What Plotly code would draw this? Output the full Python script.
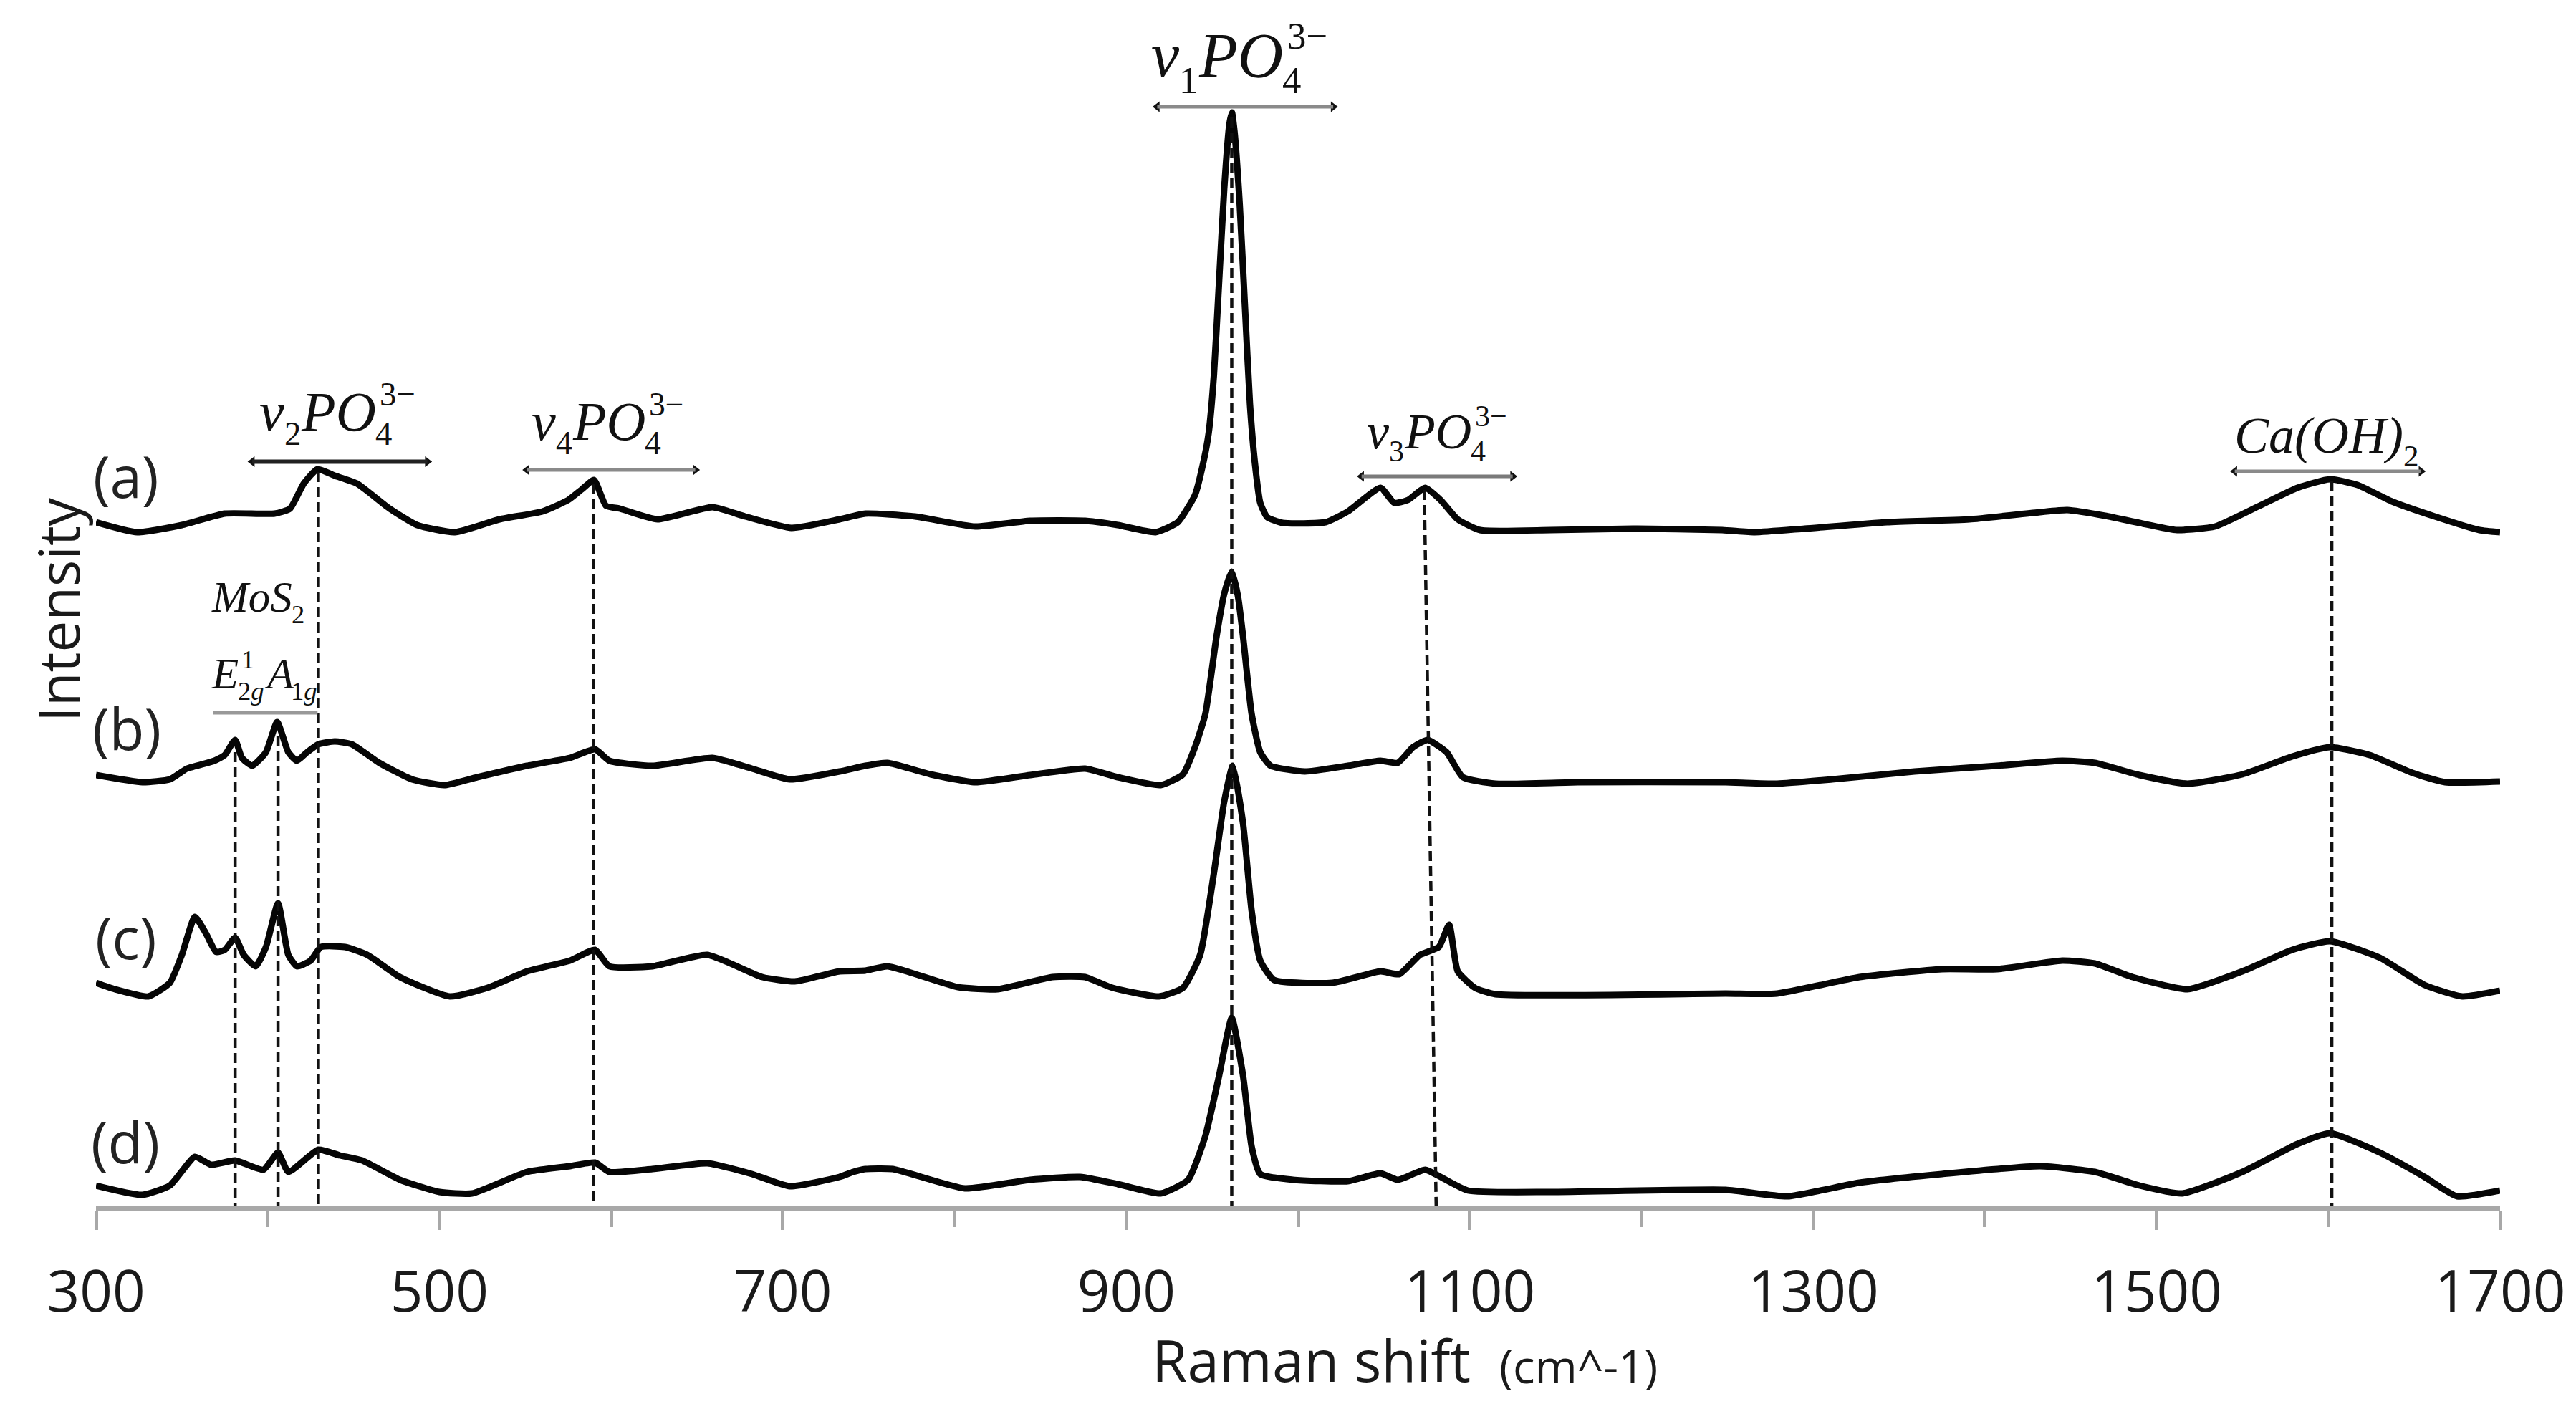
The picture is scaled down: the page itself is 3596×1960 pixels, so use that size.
import re
import plotly.graph_objects as go

# ---------------- data ----------------
# Raman shift (cm^-1) and intensity (a.u., each trace before vertical stacking)
wn_a = [300, 324, 350, 375, 404, 413, 421, 429, 439, 452, 471, 487, 509, 535, 560, 575, 583, 590,
        597, 605, 627, 659, 678, 705, 733, 748, 777, 812, 844, 876, 895, 917, 930, 940, 945, 948,
        951, 954, 957, 960, 961.5, 963, 966, 969, 972, 975, 978, 982, 991, 1016, 1029, 1048, 1056,
        1064, 1074, 1083, 1093, 1106, 1147, 1195, 1247, 1266, 1295, 1343, 1391, 1432, 1448, 1470,
        1490, 1512, 1534, 1560, 1582, 1601, 1617, 1637, 1662, 1688, 1700]
int_a = [55, 41, 51, 67, 67, 74, 109, 129, 120, 109, 74, 51, 41, 59, 70, 86, 101, 114,
         78, 74, 59, 76, 63, 47, 59, 67, 63, 49, 57, 57, 51, 41, 55, 93, 140, 180,
         260, 390, 520, 610, 627, 600, 500, 360, 220, 135, 82, 62, 54, 55, 70, 103, 82,
         86, 103, 86, 59, 44, 44, 46, 44, 41, 46, 55, 59, 69, 72, 64,
         54, 44, 49, 78, 103, 115, 107, 84, 63, 44, 41]

wn_b = [300, 327, 343, 353, 369, 375, 381, 385, 391, 399, 405.5, 412, 417, 423, 429.5, 439, 449,
        465, 484, 503, 522, 551, 576, 590.6, 599, 624, 659, 682, 704, 733, 748, 761, 786, 812, 844,
        876, 895, 920, 933, 940, 946, 952.5, 957, 961.4, 965, 968, 973, 978, 984, 1004, 1029, 1048,
        1058, 1067, 1075.5, 1086.5, 1096, 1115, 1163, 1249, 1279, 1311, 1359, 1407, 1445, 1464,
        1490, 1518, 1550, 1579, 1601, 1624, 1649, 1668, 1700]
int_b = [42, 32, 36, 51, 62, 70, 91, 66, 55, 74, 116, 74, 62, 74, 85, 89, 85,
         59, 36, 28, 39, 55, 66, 78, 62, 55, 66, 51, 36, 47, 55, 59, 43, 32, 42,
         51, 39, 28, 43, 81, 127, 235, 295, 326, 292, 235, 127, 74, 55, 47, 55, 62,
         59, 81, 91, 74, 39, 30, 32, 32, 30, 36, 47, 55, 62, 59,
         42, 30, 43, 68, 81, 70, 45, 32, 33]

wn_c = [300, 311, 330.5, 343, 350, 357.6, 364, 370, 375, 381, 386, 393, 399, 406, 412, 417, 425,
        431, 445, 458, 477, 506, 528, 551, 576, 590.6, 599, 624, 656, 688, 707, 733, 748, 761, 802,
        825, 857, 876, 892, 919, 933, 943, 951, 957, 962, 968, 973, 978, 986, 1020, 1048, 1059,
        1071, 1082, 1088, 1093, 1103, 1115, 1249, 1279, 1327, 1375, 1407, 1445, 1464, 1486, 1518,
        1550, 1579, 1601, 1630, 1656, 1678, 1700]
int_c = [42, 33, 23, 42, 81, 134, 111, 85, 88, 105, 81, 65, 92, 153, 81, 65, 73,
         92, 92, 81, 50, 23, 35, 58, 73, 88, 65, 65, 81, 50, 44, 58, 59, 65, 36,
         33, 50, 50, 35, 23, 35, 81, 195, 295, 345, 264, 142, 73, 46, 42, 58, 54,
         81, 92, 123, 58, 35, 26, 27, 27, 50, 61, 61, 73, 69, 50, 33,
         58, 88, 100, 77, 39, 23, 31]

wn_d = [300, 327, 343, 357.6, 367, 381, 397.5, 406, 412, 429.5, 442, 455, 477, 500, 519, 551, 576,
        590.6, 599, 624, 656, 682, 704, 733, 741, 748, 764, 806, 844, 873, 895, 920, 936, 946, 954,
        961.4, 968, 973, 978, 997, 1029, 1048, 1058, 1074, 1083, 1099, 1147, 1249, 1285, 1327,
        1375, 1432, 1464, 1490, 1515, 1550, 1582, 1601, 1630, 1656, 1675, 1700]
int_d = [29, 16, 29, 69, 58, 64, 51, 75, 48, 79, 71, 64, 37, 20, 18, 48, 56,
         61, 48, 52, 60, 45, 28, 41, 48, 52, 52, 25, 37, 41, 31, 18, 37, 98, 182,
         263, 182, 83, 45, 37, 35, 46, 37, 51, 41, 22, 20, 23, 14, 33,
         45, 56, 48, 29, 18, 48, 87, 102, 75, 41, 14, 22]

sample_names = ["(a)", "(b)", "(c)", "(d)"]
stack_offsets = [900, 560, 270, 0]

# band assignments: peak positions (cm^-1)
peak_lines = [381, 406, 429.5, 589.7, 961.4, 1602]
peak_tops = [634, 657, 1025, 1009, 1520, 1013]
v3_line = ([1073.5, 1080.5], [1000, -8])

# labelled ranges: (x0, x1, height)
bands = {
    "v1": (918, 1020.5, 1535),
    "v2": (391, 493, 1039.5),
    "v4": (551, 649, 1028),
    "v3": (1037, 1125, 1019),
    "CaOH": (1545.5, 1654, 1026),
    "MoS2": (368, 429, 689),
}

tick_values = [300, 500, 700, 900, 1100, 1300, 1500, 1700]

# ---------------- figure ----------------
W, H = 3596, 1960
ML, MR, MT, MB = 126, 114, 0, 284
PLOT_W = W - ML - MR
PLOT_H = H - MT - MB

fig = go.Figure()

spectra = [(wn_a, int_a), (wn_b, int_b), (wn_c, int_c), (wn_d, int_d)]
for (wn, it), off, name in zip(spectra, stack_offsets, sample_names):
    fig.add_trace(go.Scatter(
        x=wn, y=[v + off for v in it], mode="lines", name=name,
        line=dict(color="#050505", width=9, shape="spline", smoothing=0.5),
        hoverinfo="skip"))

shapes = []
for xp_, top in zip(peak_lines, peak_tops):
    shapes.append(dict(type="line", xref="x", yref="y", x0=xp_, x1=xp_, y0=top, y1=0,
                       line=dict(color="#111111", width=4.5, dash="14px,7px"), layer="above"))
shapes.append(dict(type="line", xref="x", yref="y", x0=v3_line[0][0], x1=v3_line[0][1],
                   y0=v3_line[1][0], y1=v3_line[1][1],
                   line=dict(color="#111111", width=4.5, dash="14px,7px"), layer="above"))

bar_style = {"v1": ("#8a8a8a", 5), "v2": ("#222222", 6), "v4": ("#8a8a8a", 5),
             "v3": ("#7a7a7a", 5), "CaOH": ("#8a8a8a", 5), "MoS2": ("#999999", 5)}
head_x, head_y, head_sym = [], [], []
for key, (x0, x1, yb) in bands.items():
    col, lw = bar_style[key]
    shapes.append(dict(type="line", xref="x", yref="y", x0=x0, x1=x1, y0=yb, y1=yb,
                       line=dict(color=col, width=lw), layer="above"))
    if key != "MoS2":
        head_x += [x0, x1]
        head_y += [yb, yb]
        head_sym += ["triangle-left", "triangle-right"]
fig.add_trace(go.Scatter(x=head_x, y=head_y, mode="markers",
                         marker=dict(symbol=head_sym, size=13, color="#111111"),
                         hoverinfo="skip", cliponaxis=False))

# ---- chemical labels built from pieces (stacked sub/superscripts) ----
SERIF_W = {"v": 0.444, "P": 0.611, "O": 0.722, "C": 0.667, "a": 0.5, "(": 0.333, ")": 0.333,
           "H": 0.722, "M": 0.833, "o": 0.5, "S": 0.5, "E": 0.611, "A": 0.611, "g": 0.5,
           "−": 0.6}


def text_w(html, size):
    plain = re.sub(r"<[^>]+>", "", html)
    return sum(SERIF_W.get(ch, 0.5) for ch in plain) * size


def chem_label(xc, ybase, size, parts):
    small = 0.6 * size
    pieces = []
    dx = 0.0
    for p in parts:
        if p[0] == "main":
            pieces.append((dx, 0.0, "<i>" + p[1] + "</i>", size))
            dx += text_w(p[1], size)
        elif p[0] == "sub":
            pieces.append((dx, -0.26 * size, p[1], small))
            dx += text_w(p[1], small)
        elif p[0] == "stack":
            pieces.append((dx, -0.26 * size, p[1], small))
            pieces.append((dx + 0.08 * size, 0.45 * size, p[2], small))
            dx += max(text_w(p[1], small), text_w(p[2], small) + 0.08 * size)
    total = dx
    out = []
    for px, off, txt, fs in pieces:
        out.append(dict(x=xc, y=ybase, xref="x", yref="y", xanchor="left", yanchor="bottom",
                        xshift=px - total / 2 - 2, yshift=off - (0.216 * fs + 1),
                        text=txt, showarrow=False,
                        font=dict(family="Liberation Serif", size=fs, color="#111111")))
    return out


PO4 = lambda n: [("main", "v"), ("sub", n), ("main", "PO"), ("stack", "4", "3−")]
annotations = []
annotations += chem_label(966.2, 1576, 88, PO4("1"))
annotations += chem_label(441.0, 1082, 78, PO4("2"))
annotations += chem_label(598.3, 1069, 76, PO4("4"))
annotations += chem_label(1081.0, 1057, 70, PO4("3"))
annotations += chem_label(1599.0, 1051, 72, [("main", "Ca(OH)"), ("sub", "2")])
annotations += chem_label(394.3, 829, 61, [("main", "MoS"), ("sub", "2")])
annotations += chem_label(398.0, 722, 61, [("main", "E"), ("stack", "2<i>g</i>", "1"),
                                          ("main", "A"), ("sub", "1<i>g</i>")])

# sample labels
label_pos = [(317.5, 1021), (318, 669), (317.5, 377), (317, 92)]
for name, (lx, ly) in zip(sample_names, label_pos):
    annotations.append(dict(x=lx, y=ly, xref="x", yref="y", text=name, showarrow=False,
                            xanchor="center", yanchor="middle",
                            font=dict(family="Open Sans", size=80, color="#222222")))


def xp(px):
    return (px - ML) / PLOT_W


def yp(py):
    return (MT + PLOT_H - py) / PLOT_H


annotations.append(dict(x=xp(73), y=yp(843), xref="paper", yref="paper", text="Intensity",
                        textangle=-90, showarrow=False, xanchor="center", yanchor="middle",
                        font=dict(family="Open Sans", size=78, color="#1a1a1a")))
annotations.append(dict(x=xp(2047), y=yp(1922 + 0.293 * 80 + 1), xref="paper", yref="paper",
                        text="Raman shift", showarrow=False, xanchor="right", yanchor="bottom",
                        font=dict(family="Open Sans", size=80, color="#1a1a1a")))
annotations.append(dict(x=xp(2083), y=yp(1924 + 0.293 * 64 + 1), xref="paper", yref="paper",
                        text="(cm^-1)", showarrow=False, xanchor="left", yanchor="bottom",
                        font=dict(family="Open Sans", size=64, color="#1a1a1a")))

fig.update_layout(
    width=W, height=H,
    margin=dict(l=ML, r=MR, t=MT, b=MB, pad=0),
    paper_bgcolor="white", plot_bgcolor="white",
    showlegend=False,
    shapes=shapes,
    annotations=annotations,
    xaxis=dict(range=[300, 1700], tickmode="array", tickvals=tick_values,
               ticktext=[str(v) for v in tick_values],
               ticks="outside", ticklen=26, tickwidth=5, tickcolor="#a8a8a8",
               showline=True, linecolor="#a8a8a8", linewidth=7,
               minor=dict(tickmode="linear", tick0=300, dtick=100, ticks="outside",
                          ticklen=22, tickwidth=5, tickcolor="#a8a8a8"),
               showgrid=False, zeroline=False, ticklabelstandoff=18,
               tickfont=dict(family="Open Sans", size=80, color="#1a1a1a")),
    yaxis=dict(range=[0, PLOT_H], visible=False, showgrid=False, zeroline=False),
)

fig.write_html("out.html")
